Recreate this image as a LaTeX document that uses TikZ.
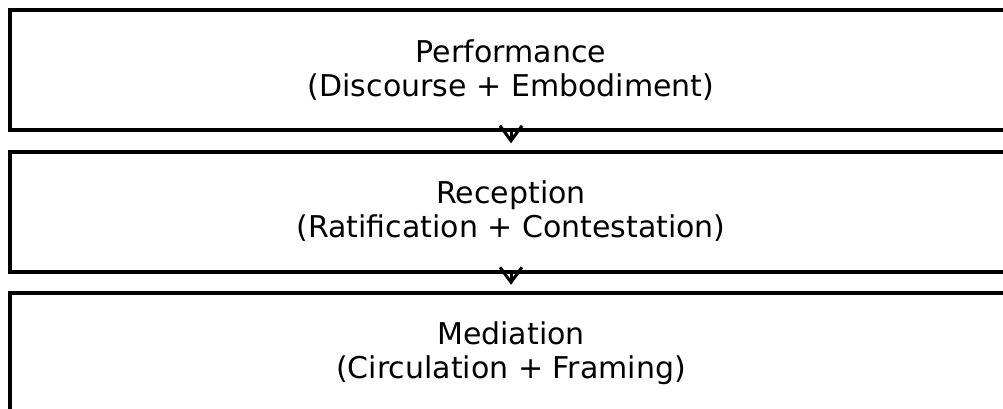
\documentclass[tikz,border=0pt]{standalone}
\usepackage{fontspec}
\setmainfont{DejaVu Sans}
\usetikzlibrary{calc}

\tikzset{
  stagebox/.style={draw=black, line width=4pt, minimum width=1002pt, minimum height=120pt,
    inner sep=0pt, outer sep=0pt, align=center, font=\fontsize{30}{34}\selectfont},
  flowline/.style={line width=3pt},
  chevron/.style={line width=3pt, line join=miter}
}

\begin{document}
\begin{tikzpicture}[x=1pt,y=1pt,yscale=-1,xscale=1]
\useasboundingbox (0,0) rectangle (1003,409);
\clip (0,0) rectangle (1003,409);
% Boxes
\node [stagebox] (perf) at (511,70) {Performance\\(Discourse + Embodiment)};
\node [stagebox] (recep) at (511,211.5) {Reception\\(Ratification + Contestation)};
\node [stagebox] (medi) at (511,353) {Mediation\\(Circulation + Framing)};
% Arrows
\coordinate (tip1) at ($(perf.south)!0.5!(recep.north)$);
\coordinate (tip2) at ($(recep.south)!0.5!(medi.north)$);
\draw [flowline] (perf.south) -- (tip1);
\draw [chevron] ($(tip1)+(-11,-15)$) -- (tip1) -- ($(tip1)+(11,-15)$);
\draw [flowline] (recep.south) -- (tip2);
\draw [chevron] ($(tip2)+(-11,-15)$) -- (tip2) -- ($(tip2)+(11,-15)$);
\end{tikzpicture}
\end{document}
